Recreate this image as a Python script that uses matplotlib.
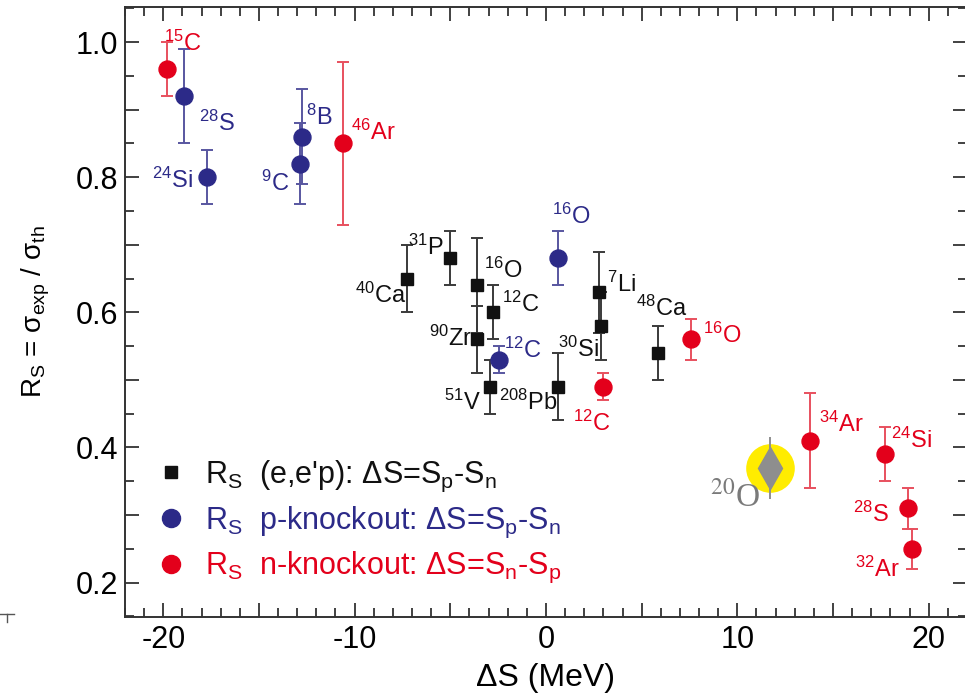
import matplotlib

matplotlib.use("Agg")
import matplotlib.pyplot as plt
from matplotlib.lines import Line2D
from matplotlib.ticker import FuncFormatter, MultipleLocator

plt.rcParams.update(
    {
        "font.family": ["Liberation Sans", "DejaVu Sans"],
        "mathtext.fontset": "custom",
        "mathtext.rm": "Liberation Sans",
        "mathtext.it": "Liberation Sans:italic",
        "mathtext.bf": "Liberation Sans:bold",
        "font.size": 21,
    }
)

RED = "#e3001b"
RED_BAR = "#e8505e"
BLUE = "#2c2a88"
BLUE_BAR = "#5856a0"
BLACK = "#111111"
BLACK_BAR = "#3a3a3a"

# (e,e'p) results, dS = Sp - Sn
eep_names = ["40Ca", "31P", "16O", "12C", "90Zr", "51V", "208Pb", "7Li", "30Si", "48Ca"]
eep_ds = [-7.25, -5.0, -3.6, -2.75, -3.6, -2.95, 0.65, 2.75, 2.9, 5.85]
eep_rs = [0.65, 0.68, 0.64, 0.60, 0.56, 0.49, 0.49, 0.63, 0.58, 0.54]
eep_err = [0.05, 0.04, 0.07, 0.04, 0.05, 0.04, 0.05, 0.06, 0.05, 0.04]

# proton knockout, dS = Sp - Sn
pko_names = ["28S", "24Si", "8B", "9C", "16O", "12C"]
pko_ds = [-18.9, -17.7, -12.75, -12.85, 0.65, -2.45]
pko_rs = [0.92, 0.80, 0.86, 0.82, 0.68, 0.53]
pko_err = [0.07, 0.04, 0.07, 0.06, 0.04, 0.02]

# neutron knockout, dS = Sn - Sp
nko_names = ["15C", "46Ar", "16O", "12C", "34Ar", "24Si", "28S", "32Ar"]
nko_ds = [-19.8, -10.6, 7.6, 3.0, 13.8, 17.7, 18.9, 19.1]
nko_rs = [0.96, 0.85, 0.56, 0.49, 0.41, 0.39, 0.31, 0.25]
nko_err = [0.04, 0.12, 0.03, 0.02, 0.07, 0.04, 0.03, 0.03]

# highlighted 20O point
o20_ds = [11.7]
o20_rs = [0.37]
o20_err = [0.046]

# label offsets in pixels (dx, dy, ha) relative to each point
eep_offsets = [(-1, -24, "right"), (-7, 3, "right"), (7, 7, "left"), (9, 0, "left"),
               (-5, -7, "right"), (-9, -23, "right"), (-1, -23, "right"), (8, 0, "left"),
               (-3, -31, "right"), (-22, 37, "left")]
pko_offsets = [(15, -35, "left"), (-15, -11, "right"), (4, 12, "left"),
               (-11, -27, "right"), (-6, 34, "left"), (5, 2, "left")]
nko_offsets = [(-3, 18, "left"), (8, 4, "left"), (12, -4, "left"), (-30, -44, "left"),
               (9, 9, "left"), (6, 6, "left"), (-19, -14, "right"), (-12, -28, "right")]


def _isotope(name: str) -> str:
    digits = "".join(ch for ch in name if ch.isdigit())
    element = name[len(digits):]
    return f"$^{{{digits}}}$" + element


def _series(ax, ds, rs, err, marker, size, color, bar_color):
    ax.errorbar(
        ds, rs, yerr=err, fmt=marker, ms=size, color=color, mec=color,
        ecolor=bar_color, elinewidth=1.4, capsize=4, capthick=1.4, zorder=3,
    )


def _labels(ax, names, ds, rs, offsets, color, size=17):
    for name, x, y, (dx, dy, ha) in zip(names, ds, rs, offsets):
        ax.annotate(
            _isotope(name), (x, y), xytext=(dx, dy), textcoords="offset pixels",
            ha=ha, va="baseline", color=color, fontsize=size, zorder=4,
        )


fig = plt.figure(figsize=(9.65, 7.0), dpi=100)
ax = fig.add_axes([125 / 965, 1 - 617 / 700, 842 / 965, 610 / 700])

# yellow halo + grey diamond for 20O
ax.plot(o20_ds, o20_rs, "o", ms=35, color="#ffec00", mec="none", zorder=1)
ax.errorbar(o20_ds, o20_rs, yerr=o20_err, fmt="d", ms=21, color="#8e8e8e",
            mec="#8e8e8e", ecolor="#8e8e8e", elinewidth=1.4, capsize=0, zorder=2)
ax.annotate("$^{20}$O", (o20_ds[0], o20_rs[0]), xytext=(-10, -39),
            textcoords="offset pixels", ha="right", va="baseline", color="#7a7a7a",
            fontsize=24, family="Liberation Serif", math_fontfamily="stix")

_series(ax, eep_ds, eep_rs, eep_err, "s", 8.6, BLACK, BLACK_BAR)
_series(ax, pko_ds, pko_rs, pko_err, "o", 12.2, BLUE, BLUE_BAR)
_series(ax, nko_ds, nko_rs, nko_err, "o", 12.2, RED, RED_BAR)

_labels(ax, eep_names, eep_ds, eep_rs, eep_offsets, BLACK)
_labels(ax, pko_names, pko_ds, pko_rs, pko_offsets, BLUE)
_labels(ax, nko_names, nko_ds, nko_rs, nko_offsets, RED)

ax.set_xlim(-22, 22)
ax.set_ylim(0.149, 1.052)

ax.xaxis.set_major_locator(MultipleLocator(5))
ax.xaxis.set_minor_locator(MultipleLocator(1))
ax.yaxis.set_major_locator(MultipleLocator(0.1))
ax.yaxis.set_minor_locator(MultipleLocator(0.05))
ax.xaxis.set_major_formatter(
    FuncFormatter(lambda v, _: f"{v:.0f}" if round(v) % 10 == 0 else "")
)
ax.yaxis.set_major_formatter(
    FuncFormatter(lambda v, _: f"{v:.1f}" if round(v * 10) % 2 == 0 else "")
)
ax.tick_params(which="both", direction="in", top=True, right=True,
               color="#333333", width=1.3, labelsize=22)
ax.tick_params(which="major", length=10)
ax.tick_params(which="minor", length=6.5)
ax.tick_params(axis="x", pad=6)
ax.tick_params(axis="y", pad=5)
for spine in ax.spines.values():
    spine.set_linewidth(1.4)
    spine.set_color("#333333")

ax.set_xlabel("ΔS (MeV)", fontsize=23)
ax.xaxis.set_label_coords(0.5, -0.075)
ax.set_ylabel(r"R$_\mathrm{S}$ = σ$_\mathrm{exp}$ / σ$_\mathrm{th}$", fontsize=20)
ax.yaxis.set_label_coords(-0.087, 0.5)

handles = [
    Line2D([], [], marker="s", ls="none", ms=9, color=BLACK),
    Line2D([], [], marker="o", ls="none", ms=13, color=BLUE),
    Line2D([], [], marker="o", ls="none", ms=13, color=RED),
]
legend_labels = [
    r"R$_\mathrm{S}$  (e,e'p): ΔS=S$_\mathrm{p}$-S$_\mathrm{n}$",
    r"R$_\mathrm{S}$  p-knockout: ΔS=S$_\mathrm{p}$-S$_\mathrm{n}$",
    r"R$_\mathrm{S}$  n-knockout: ΔS=S$_\mathrm{n}$-S$_\mathrm{p}$",
]
ax.legend(
    handles, legend_labels, loc="upper left", bbox_to_anchor=(0.04, 0.259),
    frameon=False, fontsize=22, handlelength=0.8, handletextpad=0.7,
    labelspacing=0.34, borderpad=0, borderaxespad=0,
    labelcolor=[BLACK, BLUE, RED],
)

# stray tick fragment at the left edge of the original figure
fig.add_artist(Line2D([0, 14 / 965], [1 - 614 / 700] * 2, color="#555555", lw=1))
fig.add_artist(Line2D([7 / 965] * 2, [1 - 614 / 700, 1 - 622 / 700], color="#555555", lw=1))

fig.savefig("out.png", dpi=100)
